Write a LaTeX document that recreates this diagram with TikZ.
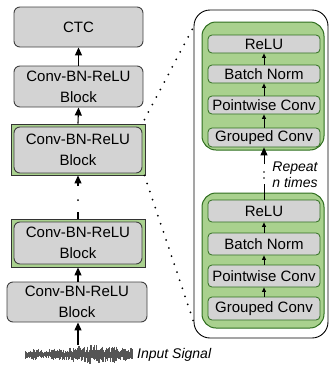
\documentclass[tikz,border=0pt]{standalone}
\usepackage{fontspec}
\setmainfont{Liberation Sans}
\usetikzlibrary{arrows.meta}
\definecolor{boxgray}{HTML}{D3D3D3}
\definecolor{boxline}{HTML}{404040}
\definecolor{lgreen}{HTML}{A9D18E}
\definecolor{dgreen}{HTML}{2F6E1F}
\definecolor{wavecol}{HTML}{555555}
\begin{document}
\begin{tikzpicture}[x=1pt,y=-1pt,
  graybox/.style={draw=boxline, fill=boxgray, rounded corners=6pt, line width=0.9pt, inner sep=0pt, align=center, font=\fontsize{15}{21}\selectfont},
  gframe/.style={draw=black!80, fill=lgreen, line width=0.9pt, inner sep=0pt},
  gblock/.style={draw=dgreen, fill=lgreen, rounded corners=14pt, line width=1pt, inner sep=0pt, minimum width=122pt},
  ibox/.style={draw=dgreen, fill=boxgray, rounded corners=4pt, line width=0.8pt, inner sep=0pt, font=\fontsize{15}{18}\selectfont, minimum width=112pt},
  arr/.style={line width=1.1pt, -{Triangle[length=8pt,width=7pt]}},
  sarr/.style={line width=0.8pt, -{Triangle[length=4.5pt,width=4pt]}},
  plainline/.style={line width=1.1pt},
  dotline/.style={line width=2pt, line cap=round, dash pattern=on 0pt off 8.5pt},
  wave/.style={draw=wavecol, line width=0.6pt},
  lab/.style={font=\fontsize{14}{16}\selectfont\itshape, inner sep=0pt, align=center}
]
\useasboundingbox (0,0) rectangle (331,365);

% ---------- left column ----------
\node[graybox, minimum width=129pt, minimum height=40pt] (ctc) at (78.5,27) {CTC};
\node[graybox, minimum width=129pt, minimum height=41pt] (b2) at (78.5,86.5) {Conv-BN-ReLU\\Block};
\node[gframe, minimum width=134pt, minimum height=51pt] (b3f) at (78,149.5) {};
\node[graybox, minimum width=128pt, minimum height=46pt] (b3) at (78,150) {Conv-BN-ReLU\\Block};
\node[gframe, minimum width=134pt, minimum height=48pt] (b4f) at (78,243) {};
\node[graybox, minimum width=128pt, minimum height=42pt] (b4) at (78,243) {Conv-BN-ReLU\\Block};
\node[graybox, minimum width=140pt, minimum height=40pt] (b5) at (77,302) {Conv-BN-ReLU\\Block};

% waveform
\pgfmathsetseed{11}
\foreach \i in {0,...,107}{
  \pgfmathsetmacro{\env}{4.5+4.5*exp(-((\i-70)/32)^2)+1.5*sin(\i*9)^2}
  \pgfmathsetmacro{\hu}{\env*(0.3+0.7*rnd)}
  \pgfmathsetmacro{\hd}{\env*(0.3+0.7*rnd)}
  \draw[wave] ({25+\i},{354.5-\hu}) -- ({25+\i},{354.5+\hd});
}
\coordinate (sig) at (78,345);
\node[lab, anchor=west] (inlab) at (137,355) {Input Signal};

\draw[arr] (sig) -- (sig |- b5.south);
\draw[arr] (b5.north -| b4f.south) -- (b4f.south);
\draw[plainline] (b4f.north) -- ++(0,-7) coordinate (l1);
\draw[dotline] (78,200) -- (78,192);
\coordinate (l2) at (78,186);
\draw[arr] (l2) -- (b3f.south);
\draw[arr] (b3f.north) -- (b2.south);
\draw[arr] (b2.north) -- (ctc.south);

% ---------- right panel ----------
\node[draw=black, line width=0.9pt, rounded corners=16pt, minimum width=134pt, minimum height=328pt, inner sep=0pt] (big) at (261,174) {};

\node[gblock, minimum height=128pt] (tg) at (263,86) {};
\node[ibox, minimum height=18pt] (trelu) at (264,44) {ReLU};
\node[ibox, minimum height=18pt] (tbn) at (264,74) {Batch Norm};
\node[ibox, minimum height=18pt] (tpw) at (264,105) {Pointwise Conv};
\node[ibox, minimum height=19pt] (tgc) at (264,137.5) {Grouped Conv};
\draw[sarr] (tgc.north) -- (tpw.south);
\draw[sarr] (tpw.north) -- (tbn.south);
\draw[sarr] (tbn.north) -- (trelu.south);

\node[gblock, minimum height=135pt] (bg) at (263,260.5) {};
\node[ibox, minimum height=22pt] (brelu) at (264,211) {ReLU};
\node[ibox, minimum height=22pt] (bbn) at (264,244) {Batch Norm};
\node[ibox, minimum height=22pt] (bpw) at (264,276) {Pointwise Conv};
\node[ibox, minimum height=23pt] (bgc) at (264,308.5) {Grouped Conv};
\draw[sarr] (bgc.north) -- (bpw.south);
\draw[sarr] (bpw.north) -- (bbn.south);
\draw[sarr] (bbn.north) -- (brelu.south);

% repeat connector
\draw[line width=0.8pt] (brelu.north) -- ++(0,-16) coordinate (r1);
\draw[dotline, line width=1.6pt, dash pattern=on 0pt off 6pt] (264,178) -- (264,172);
\coordinate (r2) at (264,164);
\draw[arr, line width=0.9pt] (r2) -- (tgc.south);
\node[lab] (rep) at (295,175) {Repeat\\n times};

% zoom dotted lines
\coordinate (bigTL) at (195,24);
\coordinate (bigBL) at (194,323);
\draw[dotline] (b3f.north east) ++(-1,-4) -- (bigTL);
\draw[dotline] (b3f.south east) ++(-1,0) -- (bigBL);
\end{tikzpicture}
\end{document}
